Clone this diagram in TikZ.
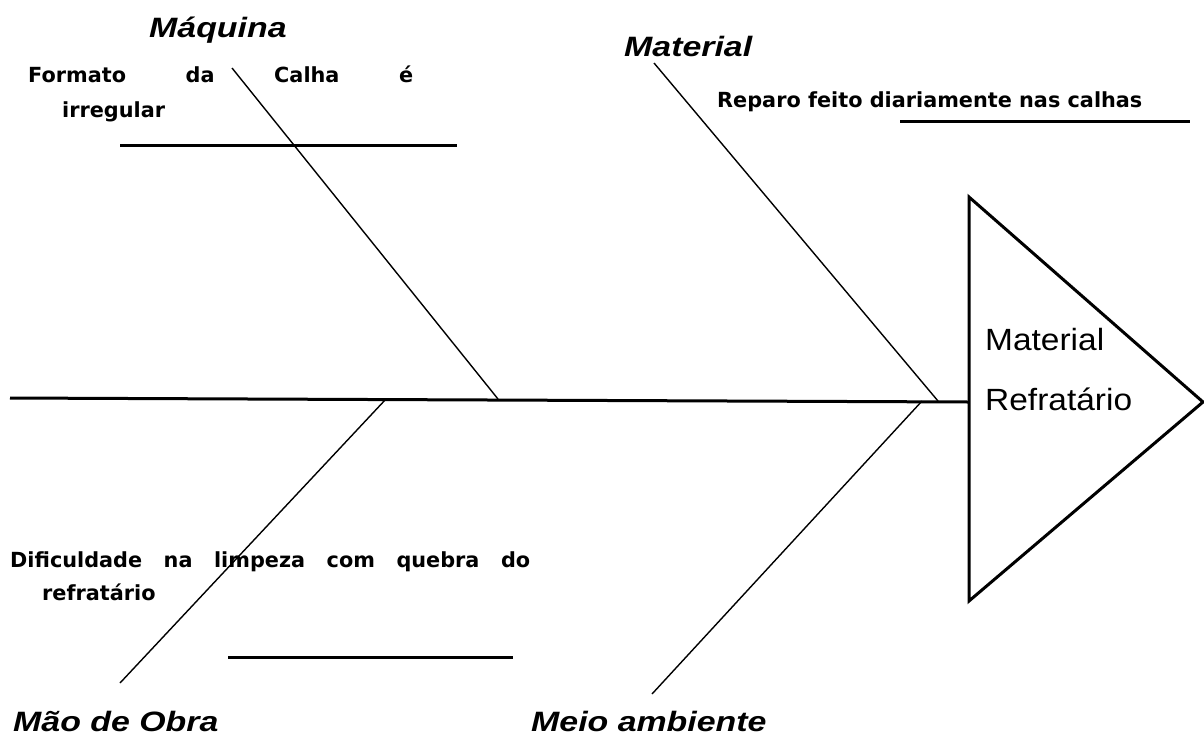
\documentclass[tikz,border=0pt]{standalone}
\usepackage{fontspec}
\newfontfamily\lblfont{Liberation Sans}[FakeStretch=1.21]
\newfontfamily\headfont{Liberation Sans}[FakeStretch=1.09]
\newfontfamily\causefont{DejaVu Sans}
\begin{document}
\begin{tikzpicture}[x=1pt,y=-1pt,
  cat/.style={inner sep=0pt,anchor=base west,font=\lblfont\bfseries\itshape\fontsize{28}{32}\selectfont},
  cause/.style={inner sep=0pt,anchor=base west,font=\causefont\bfseries\fontsize{20.8}{24}\selectfont},
  head/.style={inner sep=0pt,anchor=base west,font=\headfont\fontsize{30.7}{36}\selectfont},
  spine/.style={line width=3pt},
  bone/.style={line width=1.4pt},
  uline/.style={line width=3pt}]
\useasboundingbox (0,0) rectangle (1204,737);
% spine and head
\coordinate (tail) at (10,398);
\coordinate (hd) at (969,402);
\coordinate (ttop) at (969,197);
\coordinate (tbot) at (969,601);
\coordinate (tapex) at (1203,402);
\draw[spine] (tail) -- (hd);
\draw[spine,line join=miter] (ttop) -- (tapex) -- (tbot) -- cycle;
\node[head] (h1) at (985,350) {Material};
\node[head] (h2) at (985,410) {Refratário};
% branches
\coordinate (jmaq) at (498,399);
\coordinate (emaq) at (232,68);
\coordinate (jmat) at (938,401);
\coordinate (emat) at (654,63);
\coordinate (jmao) at (386,399);
\coordinate (emao) at (120,683);
\coordinate (jmeio) at (922,401);
\coordinate (emeio) at (652,694);
\draw[bone] (emaq) -- (jmaq);
\draw[bone] (emat) -- (jmat);
\draw[bone] (emao) -- (jmao);
\draw[bone] (emeio) -- (jmeio);
% category labels
\node[cat] (maq) at (149,37) {Máquina};
\node[cat] (mat) at (624,56) {Material};
\node[cat] (mao) at (13,731) {Mão de Obra};
\node[cat] (meio) at (531,731) {Meio ambiente};
% causes
\node[cause] (c1a) at (28,82) {\makebox[385pt][s]{Formato da Calha é}};
\node[cause] (c1b) at (62,117) {irregular};
\coordinate (u1a) at (120,145);
\coordinate (u1b) at (457,145);
\draw[uline] (u1a) -- (u1b);
\node[cause] (c2) at (717,107) {Reparo feito diariamente nas calhas};
\coordinate (u2a) at (900,121);
\coordinate (u2b) at (1190,121);
\draw[uline] (u2a) -- (u2b);
\node[cause] (c3a) at (10,567) {\makebox[520pt][s]{Dificuldade na limpeza com quebra do}};
\node[cause] (c3b) at (42,600) {refratário};
\coordinate (u3a) at (228,657);
\coordinate (u3b) at (513,657);
\draw[uline] (u3a) -- (u3b);
\end{tikzpicture}
\end{document}
